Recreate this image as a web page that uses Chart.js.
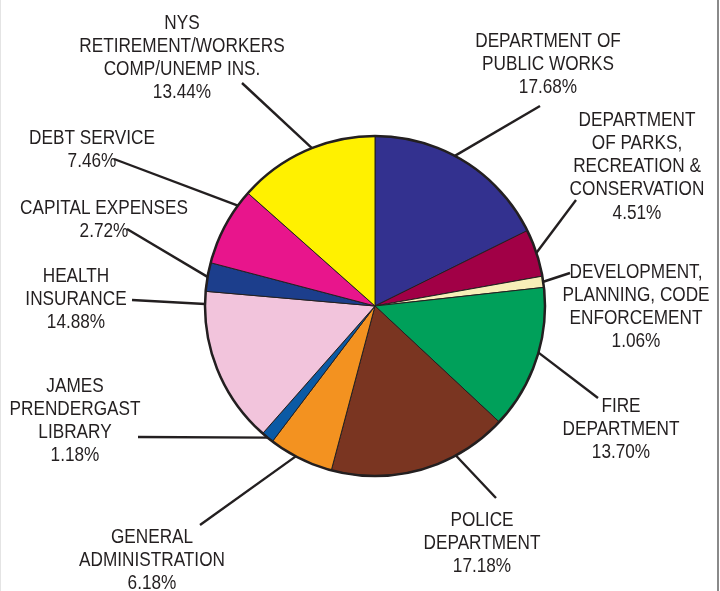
<!DOCTYPE html>
<html>
<head>
<meta charset="utf-8">
<script src="https://cdn.jsdelivr.net/npm/chart.js@4/dist/chart.umd.min.js"></script>
<style>
  html, body { margin: 0; padding: 0; background: #fff; }
  #wrap { width: 720px; height: 591px; position: relative; }
</style>
</head>
<body>
<div id="wrap"><canvas id="budgetChart" width="720" height="591"></canvas></div>
<script>
const categories = [
  ['DEPARTMENT OF', 'PUBLIC WORKS'],
  ['DEPARTMENT', 'OF PARKS,', 'RECREATION &', 'CONSERVATION'],
  ['DEVELOPMENT,', 'PLANNING, CODE', 'ENFORCEMENT'],
  ['FIRE', 'DEPARTMENT'],
  ['POLICE', 'DEPARTMENT'],
  ['GENERAL', 'ADMINISTRATION'],
  ['JAMES', 'PRENDERGAST', 'LIBRARY'],
  ['HEALTH', 'INSURANCE'],
  ['CAPITAL EXPENSES'],
  ['DEBT SERVICE'],
  ['NYS', 'RETIREMENT/WORKERS', 'COMP/UNEMP INS.']
];
const shares = [17.68, 4.51, 1.06, 13.70, 17.18, 6.18, 1.18, 14.88, 2.72, 7.46, 13.44];
const sliceColors = ['#33318f', '#a10046', '#f7efb8', '#00a05a', '#7a3521', '#f39220',
                     '#0b5aa5', '#f2c4dc', '#1c3e8c', '#e8158c', '#fff100'];

// label layout: text centre x, first line y, leader end point, attach fraction within slice
const labelLayout = [
  { x: 548, y: 41,  ex: 540, ey: 106, f: 0.44 },
  { x: 637, y: 120, ex: 576, ey: 200, f: 0.5 },
  { x: 636, y: 272, ex: 570, ey: 273, f: 0.5 },
  { x: 621, y: 406, ex: 598, ey: 398, f: 0.45 },
  { x: 482, y: 520, ex: 496, ey: 498, f: 0.3 },
  { x: 152, y: 537, ex: 200, ey: 525, f: 0.58 },
  { x: 75,  y: 386, ex: 138, ey: 437, f: 0.5 },
  { x: 76,  y: 276, ex: 132, ey: 300, f: 0.92 },
  { x: 104, y: 208, ex: 127, ey: 229, f: 0.5 },
  { x: 92,  y: 138, ex: 114, ey: 159, f: 0.8 },
  { x: 182, y: 23,  ex: 242, ey: 83,  f: 0.55 }
];

const ink = '#231f20';

const calloutPlugin = {
  id: 'callouts',
  afterDatasetsDraw(chart) {
    const ctx = chart.ctx;
    const arcs = chart.getDatasetMeta(0).data;
    if (!arcs.length) return;
    const cx = arcs[0].x, cy = arcs[0].y, r = arcs[0].outerRadius;

    // outer rim
    ctx.save();
    ctx.beginPath();
    ctx.arc(cx, cy, r, 0, Math.PI * 2);
    ctx.lineWidth = 2.5;
    ctx.strokeStyle = ink;
    ctx.stroke();

    ctx.font = '20px "Liberation Sans", Arial, sans-serif';
    ctx.fillStyle = ink;
    ctx.textAlign = 'center';
    ctx.textBaseline = 'middle';

    arcs.forEach((arc, i) => {
      const lay = labelLayout[i];
      const a = arc.startAngle + (arc.endAngle - arc.startAngle) * lay.f;
      const sx = cx + Math.cos(a) * r;
      const sy = cy + Math.sin(a) * r;
      ctx.beginPath();
      ctx.moveTo(sx, sy);
      ctx.lineTo(lay.ex, lay.ey);
      ctx.lineWidth = 2.4;
      ctx.stroke();

      const lines = categories[i].concat([shares[i].toFixed(2) + '%']);
      lines.forEach((t, k) => {
        ctx.save();
        ctx.translate(lay.x, lay.y + k * 23.3);
        ctx.scale(0.86, 1);
        ctx.fillText(t, 0, 0);
        ctx.restore();
      });
    });

    // frame edges
    ctx.fillStyle = '#8a8a8a';
    ctx.fillRect(717, 0, 2, chart.height);
    ctx.fillStyle = '#e4e4e4';
    ctx.fillRect(0, 0, 1, chart.height);
    ctx.restore();
  }
};

new Chart(document.getElementById('budgetChart').getContext('2d'), {
  type: 'pie',
  data: {
    labels: categories.map(c => c.join(' ')),
    datasets: [{
      data: shares,
      backgroundColor: sliceColors,
      borderColor: ink,
      borderWidth: 1
    }]
  },
  options: {
    responsive: false,
    animation: false,
    radius: 170,
    layout: { padding: { left: 205, right: 175, top: 136, bottom: 115 } },
    plugins: {
      legend: { display: false },
      tooltip: { enabled: false }
    }
  },
  plugins: [calloutPlugin]
});
</script>
</body>
</html>
